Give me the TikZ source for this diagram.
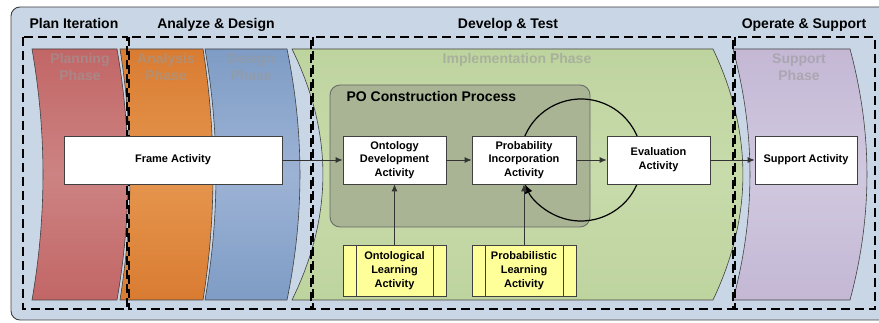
\documentclass[tikz,border=0pt]{standalone}
\usepackage{fontspec}
\setmainfont{Liberation Sans}
\usetikzlibrary{arrows.meta}
\definecolor{bgblue}{HTML}{C9D6E6}
\definecolor{planA}{HTML}{C26666}
\definecolor{planB}{HTML}{CD8383}
\definecolor{anaA}{HTML}{D97C32}
\definecolor{anaB}{HTML}{E6964F}
\definecolor{desA}{HTML}{7E9CC5}
\definecolor{desB}{HTML}{9DB3D5}
\definecolor{impA}{HTML}{BED49F}
\definecolor{impB}{HTML}{C8DBAB}
\definecolor{supA}{HTML}{C4B8D5}
\definecolor{supB}{HTML}{D0C8DF}
\definecolor{pogray}{HTML}{A8B494}
\definecolor{learnyellow}{HTML}{FFFF99}
\tikzset{
  phase/.style={draw=black!75,line width=0.6pt},
  stage/.style={draw=black,dash pattern=on 9pt off 5pt,line width=1.2pt},
  hdr/.style={font=\fontsize{14}{16}\selectfont\bfseries,anchor=base},
  phasetxt/.style={text=black!40,text opacity=.6,align=center,anchor=base,
    font=\fontsize{14}{17}\selectfont\bfseries},
  act/.style={draw=black!75,fill=white,line width=0.7pt,minimum width=103pt,
    minimum height=48pt,align=center,inner sep=1pt,
    font=\fontsize{11}{13.7}\selectfont\bfseries},
  learn/.style={act,fill=learnyellow,minimum height=51pt,
    path picture={\draw[black!75,line width=0.7pt]
      ([xshift=13pt]path picture bounding box.north west)--([xshift=13pt]path picture bounding box.south west)
      ([xshift=-13pt]path picture bounding box.north east)--([xshift=-13pt]path picture bounding box.south east);}},
  flow/.style={draw=black!80,line width=0.8pt,-{Latex[length=7pt,width=6pt]}},
  cycle arrow/.style={draw=black,line width=1.2pt,-{Latex[length=9pt,width=8pt]}}
}
\begin{document}
\begin{tikzpicture}[x=1pt,y=-1pt]
\useasboundingbox(0,0) rectangle (879,323);
\fill[white](0,0) rectangle (879,323);
\draw[fill=bgblue,draw=black!75,line width=0.9pt,rounded corners=9pt](11,7) rectangle (890,320);
% phases
\foreach \xl/\xr/\bl/\br/\ca/\cb in {32/117/11/11/planA/planB,120/203/10/10/anaA/anaB,
  205/287/11/13/desA/desB,292/713/31/30/impA/impB,733/850/17/17/supA/supB}
  \draw[phase,top color=\ca,bottom color=\ca,middle color=\cb](\xl,49)--(\xr,49)
    .. controls (\xr+1.33*\br,133) and (\xr+1.33*\br,216) .. (\xr,300)--(\xl,300)
    .. controls (\xl+1.33*\bl,216) and (\xl+1.33*\bl,133) .. (\xl,49)--cycle;
\node[phasetxt] (planning) at (80,81) {Planning\\Phase};
\node[phasetxt] (analysis) at (166,81) {Analysis\\Phase};
\node[phasetxt] (design) at (251,81) {Design\\Phase};
\node[phasetxt] (implementation) at (517,64) {Implementation Phase};
\node[phasetxt] (support) at (799,81) {Support\\Phase};
% iterations
\draw[stage](23,37) rectangle (127,309);
\draw[stage](129,37) rectangle (311,309);
\draw[stage](313,37) rectangle (733,309);
\draw[stage](735,37) rectangle (875,309);
\node[hdr] (plan) at (74,29) {Plan Iteration};
\node[hdr] (analyze) at (216,29) {Analyze \& Design};
\node[hdr] (develop) at (508,29) {Develop \& Test};
\node[hdr] (operate) at (804,29) {Operate \& Support};
% PO construction process
\draw[fill=pogray,draw=black!60,line width=0.8pt,rounded corners=10pt](330,85) rectangle (590,227);
\node[font=\fontsize{14}{16}\selectfont\bfseries,anchor=base west] (po) at (343,102) {PO Construction Process};
\coordinate (loop) at (581,160);
\draw[cycle arrow] (loop) ++(200:61) arc[start angle=200,end angle=516.5,radius=61];
% activities
\node[act,minimum width=218pt] (frame) at (173,160) {Frame Activity};
\node[act] (onto) at (394.5,160) {Ontology\\Development\\Activity};
\node[act,minimum width=104pt] (prob) at (524,160) {Probability\\Incorporation\\Activity};
\node[act] (eval) at (658.5,160) {Evaluation\\Activity};
\node[act,minimum width=102pt] (supp) at (806,160) {Support Activity};
\node[learn] (ontolearn) at (394.5,270.5) {Ontological\\Learning\\Activity};
\node[learn,minimum width=104pt] (problearn) at (524,270.5) {Probabilistic\\Learning\\Activity};
\draw[flow](frame)--(onto);
\draw[flow](onto)--(prob);
\draw[flow](prob)--(eval);
\draw[flow](eval)--(supp);
\draw[flow](ontolearn)--(onto);
\draw[flow](problearn)--(prob);
\end{tikzpicture}
\end{document}
